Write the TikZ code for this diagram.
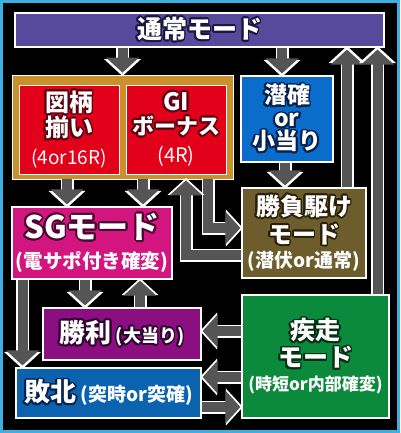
\documentclass[tikz,border=0pt]{standalone}
\usepackage{fontspec}
\setmainfont{Noto Sans CJK JP}
\usepackage{contour}
\usetikzlibrary{arrows.meta}

\definecolor{framecyan}{HTML}{3FAEE3}
\definecolor{tsujopurple}{HTML}{574A9C}
\definecolor{goldframe}{HTML}{C9902C}
\definecolor{bonusred}{HTML}{E2001A}
\definecolor{senkakublue}{HTML}{0A6DCB}
\definecolor{shobuolive}{HTML}{6D5D2C}
\definecolor{sgmagenta}{HTML}{D3157F}
\definecolor{shoripurple}{HTML}{8B0F80}
\definecolor{haibokublue}{HTML}{0B63B0}
\definecolor{shisogreen}{HTML}{0C8A3B}
\definecolor{arrowgray}{HTML}{555555}
\definecolor{darknavy}{HTML}{1B1740}
\definecolor{darkred}{HTML}{5A0010}
\definecolor{darkblue}{HTML}{06214F}
\definecolor{darkbrown}{HTML}{2A2008}
\definecolor{darkmagenta}{HTML}{4A0630}
\definecolor{darkpurple}{HTML}{2E0430}
\definecolor{darkgreen}{HTML}{053016}

\contourlength{1.8pt}
\newcommand{\outl}[2]{\contour{#1}{#2}}
\newcommand{\subtxt}[2]{{\fontsize{#1}{#1}\selectfont #2}}

\begin{document}
\begin{tikzpicture}[x=1pt, y=-1pt,
  panel/.style={draw=white, line width=1.2pt, inner sep=0pt, align=center,
    text=white, font=\bfseries\fontsize{24}{24}\selectfont},
  blockarrow/.style={line join=miter,
    preaction={draw=white, line width=13pt, line join=miter,
      -{Triangle[length=17pt, width=36pt]}, shorten >=-1.5pt},
    draw=arrowgray, line width=10pt, -{Triangle[length=15pt, width=32pt]}},
]
\useasboundingbox (0,0) rectangle (400,433);
\fill[black] (0,0) rectangle (400,433);
\draw[framecyan, line width=3pt] (1.5,1.5) rectangle (398.5,431.5);

% boxes
\node[panel, fill=tsujopurple, minimum width=369pt, minimum height=34pt,
  font=\bfseries\fontsize{25}{25}\selectfont]
  (tsujo) at (199.5,30) {\outl{darknavy}{通常モード}};
\node[draw=white, line width=0.8pt, fill=goldframe, minimum width=221pt,
  minimum height=104pt, inner sep=0pt] (gold) at (122.5,127) {};
\node[panel, line width=0.8pt, fill=bonusred, minimum width=100pt, minimum height=89pt]
  (zugara) at (69,129.5)
  {\outl{darkred}{図柄}\\\outl{darkred}{揃い}\\[4pt]\subtxt{19}{\mdseries(4or16R)}};
\node[panel, line width=0.8pt, fill=bonusred, minimum width=100pt, minimum height=89pt]
  (gi) at (176,129.5)
  {\outl{darkred}{GI}\\{\fontsize{22}{24}\selectfont\outl{darkred}{ボーナス}}\\[4pt]\subtxt{20}{\mdseries(4R)}};
\node[panel, fill=senkakublue, minimum width=92pt, minimum height=86pt,
  font=\bfseries\fontsize{23}{23}\selectfont] (senkaku) at (287,119)
  {\outl{darkblue}{潜確}\\\outl{darkblue}{or}\\\outl{darkblue}{小当り}};
\node[panel, fill=shobuolive, minimum width=124pt, minimum height=90pt,
  font=\bfseries\fontsize{24}{28}\selectfont] (shobu) at (304,233)
  {\outl{darkbrown}{勝負駆け}\\\outl{darkbrown}{モード}\\[-4pt]\subtxt{19}{(潜伏or通常)}};
\node[panel, fill=sgmagenta, minimum width=160pt, minimum height=72pt,
  font=\bfseries\fontsize{31}{34}\selectfont] (sg) at (92,243)
  {\outl{darkmagenta}{SGモード}\\[-4pt]\subtxt{19.5}{(電サポ付き確変)}};
\node[panel, fill=shoripurple, minimum width=158pt, minimum height=52pt,
  font=\bfseries\fontsize{26}{28}\selectfont] (shori) at (122,334)
  {\outl{darkpurple}{勝利}\,\outl{darkpurple}{\subtxt{18}{(大当り)}}};
\node[panel, fill=haibokublue, minimum width=185pt, minimum height=50pt,
  font=\bfseries\fontsize{26}{28}\selectfont] (haiboku) at (108.5,393)
  {\outl{darkblue}{敗北}\,\subtxt{19}{(突時or突確)}};
\node[panel, fill=shisogreen, minimum width=147pt, minimum height=123pt,
  font=\bfseries\fontsize{25}{27}\selectfont] (shiso) at (315.5,356.5)
  {\outl{darkgreen}{疾走}\\\outl{darkgreen}{モード}\\[-3pt]\subtxt{17}{(時短or内部確変)}};

% arrow lanes
\coordinate (laneA) at (282,0);
\coordinate (laneB) at (67,0);
\coordinate (laneC) at (143,0);
\coordinate (laneD) at (285,0);
\coordinate (laneE) at (208,228);
\coordinate (laneF) at (186,255);
\coordinate (laneG) at (85,0);
\coordinate (laneH) at (140,0);
\coordinate (laneI) at (22.5,0);
\coordinate (laneJ) at (347,0);
\coordinate (laneK) at (377.5,0);
\coordinate (rowA) at (0,331);
\coordinate (rowB) at (0,377);
\coordinate (rowC) at (0,407);

% arrows
\draw[blockarrow, shorten >=2pt] (tsujo.south -| gold.north) -- (gold.north);
\draw[blockarrow, shorten >=2pt] (tsujo.south -| laneA) -- (senkaku.north -| laneA);
\draw[blockarrow, shorten >=2pt] (gold.south -| laneB) -- (sg.north -| laneB);
\draw[blockarrow, shorten >=2pt] (gold.south -| laneC) -- (sg.north -| laneC);
\draw[blockarrow, shorten >=2pt] (senkaku.south -| laneD) -- (shobu.north -| laneD);
\draw[blockarrow, shorten >=1pt] (gold.south -| laneE) |- (shobu.west |- laneE);
\draw[blockarrow, shorten >=1pt] (shobu.west |- laneF) -| (gold.south -| laneF);
\draw[blockarrow, shorten >=2pt] (sg.south -| laneG) -- (shori.north -| laneG);
\draw[blockarrow, shorten >=1pt] (shori.north -| laneH) -- (sg.south -| laneH);
\draw[blockarrow, shorten >=2pt] (sg.south -| laneI) -- (haiboku.north -| laneI);
\draw[blockarrow, shorten >=1pt] (shiso.west |- rowA) -- (shori.east |- rowA);
\draw[blockarrow, shorten >=1pt] (shiso.west |- rowB) -- (haiboku.east |- rowB);
\draw[blockarrow, shorten >=1pt] (haiboku.east |- rowC) -- (shiso.west |- rowC);
\draw[blockarrow, shorten >=2pt] (shobu.north -| laneJ) -- (tsujo.south -| laneJ);
\draw[blockarrow, shorten >=2pt] (shiso.north -| laneK) -- (tsujo.south -| laneK);
\end{tikzpicture}
\end{document}
